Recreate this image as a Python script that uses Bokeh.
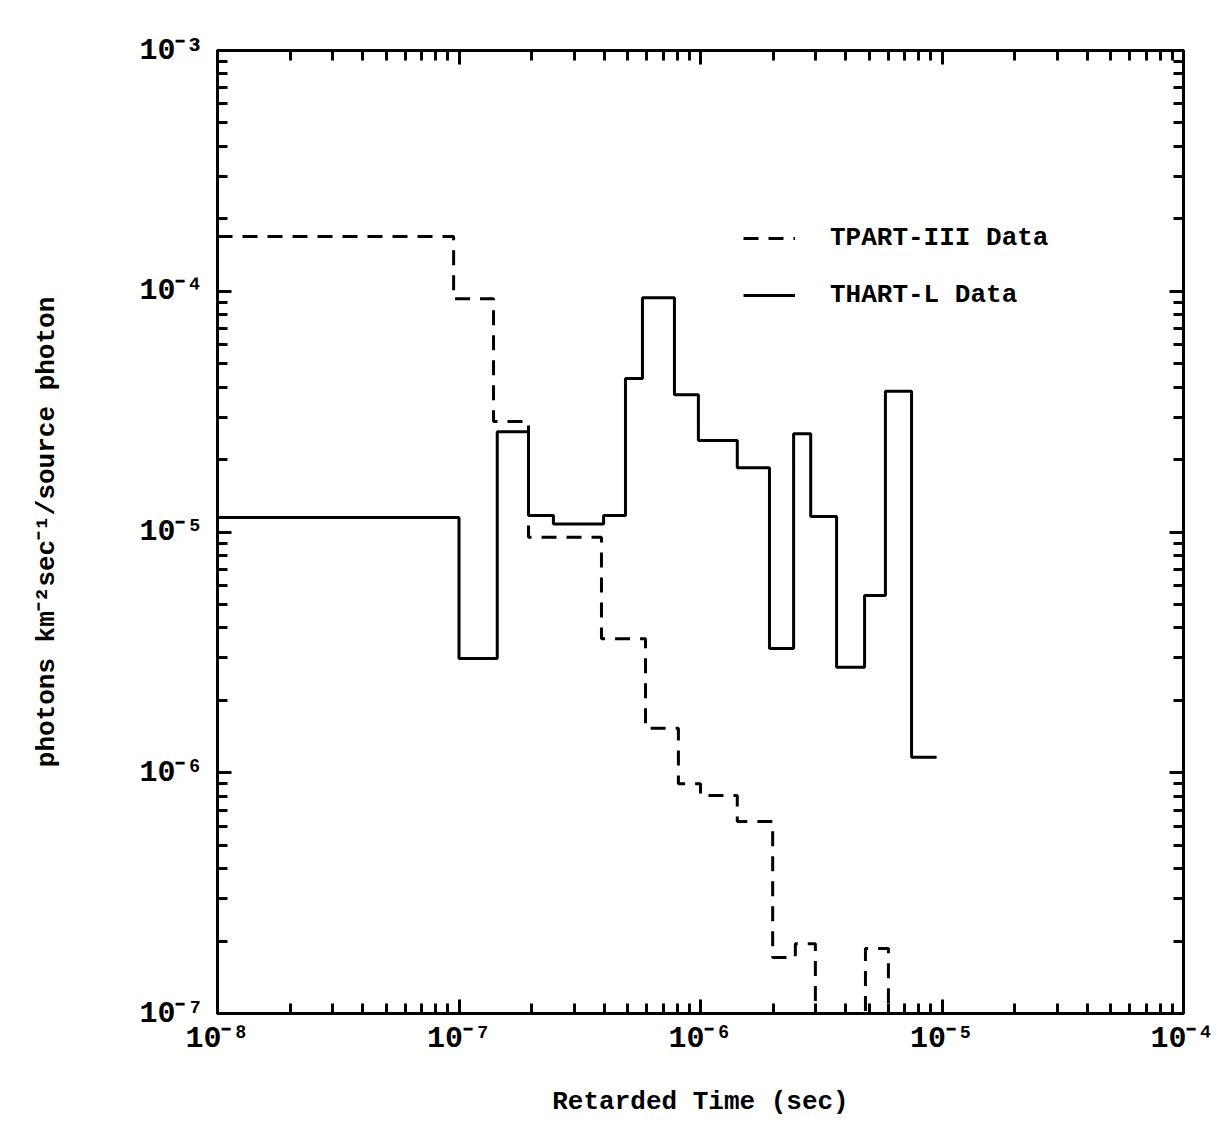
import bokeh.plotting as bkh
from bokeh.models import LogAxis, FixedTicker
from bokeh.embed import file_html
from bokeh.resources import INLINE

# bin edges (sec) and heights
tpart_edges = [1e-8, 9.5e-8, 1.39e-7, 1.94e-7, 3.89e-7, 5.92e-7, 8.1e-7, 1.0e-6,
	1.42e-6, 1.99e-6, 2.47e-6, 2.99e-6, 4.82e-6, 6.0e-6, 7.5e-6]
tpart_vals = [1.69e-4, 9.3e-5, 2.88e-5, 9.5e-6, 3.6e-6, 1.53e-6, 9.0e-7, 8.05e-7,
	6.27e-7, 1.71e-7, 1.95e-7, 5e-8, 1.86e-7, 5e-8]

thart_edges = [1e-8, 1.0e-7, 1.44e-7, 1.94e-7, 2.46e-7, 3.97e-7, 4.89e-7, 5.75e-7,
	7.8e-7, 9.8e-7, 1.42e-6, 1.93e-6, 2.43e-6, 2.86e-6, 3.66e-6, 4.78e-6, 5.83e-6,
	7.48e-6, 9.5e-6]
thart_vals = [1.15e-5, 2.98e-6, 2.61e-5, 1.17e-5, 1.08e-5, 1.17e-5, 4.34e-5, 9.4e-5,
	3.72e-5, 2.40e-5, 1.85e-5, 3.28e-6, 2.56e-5, 1.16e-5, 2.74e-6, 5.45e-6, 3.84e-5,
	1.16e-6]

x_major = [1e-8, 1e-7, 1e-6, 1e-5, 1e-4]
y_major = [1e-7, 1e-6, 1e-5, 1e-4, 1e-3]
x_labels = ['10⁻⁸', '10⁻⁷', '10⁻⁶', '10⁻⁵', '10⁻⁴']
y_labels = ['10⁻⁷', '10⁻⁶', '10⁻⁵', '10⁻⁴', '10⁻³']

FONT = 'Liberation Mono'

def steps(edges, vals):
	xs, ys = [], []
	for i, v in enumerate(vals):
		xs += [edges[i], edges[i + 1]]
		ys += [v, v]
	return xs, ys

def minors(majors):
	out = []
	for m in majors[:-1]:
		out += [k * m for k in range(2, 10)]
	return out

def style_axis(ax, ticks, minor, labels, show):
	ax.ticker = FixedTicker(ticks=ticks, minor_ticks=minor)
	ax.axis_line_width = 3
	ax.axis_line_color = 'black'
	ax.major_tick_in = 14
	ax.major_tick_out = 0
	ax.minor_tick_in = 10
	ax.minor_tick_out = 0
	ax.major_tick_line_width = 3
	ax.minor_tick_line_width = 3
	ax.major_label_text_font = FONT
	ax.major_label_text_font_style = 'bold'
	ax.major_label_text_font_size = '30px'
	ax.major_label_text_color = 'black'
	if show:
		ax.major_label_overrides = dict(zip(ticks, labels))
	else:
		ax.major_label_overrides = {t: '' for t in ticks}

p = bkh.figure(x_axis_type='log', y_axis_type='log',
	x_range=(1e-8, 1e-4), y_range=(1e-7, 1e-3),
	frame_width=966, frame_height=963,
	min_border_left=217, min_border_top=50, min_border_right=31, min_border_bottom=106,
	output_backend='svg', toolbar_location=None)
p.grid.visible = False
p.outline_line_color = 'black'
p.outline_line_width = 3

xs, ys = steps(tpart_edges, tpart_vals)
p.line(xs, ys, color='black', line_width=3, line_dash='15 10', legend_label='TPART-III Data')
xs, ys = steps(thart_edges, thart_vals)
p.line(xs, ys, color='black', line_width=3, legend_label='THART-L Data')

bottom = p.xaxis[0]
left = p.yaxis[0]
style_axis(bottom, x_major, minors(x_major), x_labels, True)
style_axis(left, y_major, minors(y_major), y_labels, True)
bottom.major_label_standoff = 8
left.major_label_standoff = 14

top = LogAxis()
style_axis(top, x_major, minors(x_major), x_labels, False)
top.major_label_standoff = 0
p.add_layout(top, 'above')
right = LogAxis()
style_axis(right, y_major, minors(y_major), y_labels, False)
right.major_label_standoff = 0
p.add_layout(right, 'right')

bottom.axis_label = 'Retarded Time (sec)'
left.axis_label = 'photons km⁻²sec⁻¹/source photon'
for ax in (bottom, left):
	ax.axis_label_text_font = FONT
	ax.axis_label_text_font_style = 'bold'
	ax.axis_label_text_font_size = '26px'
	ax.axis_label_text_color = 'black'
bottom.axis_label_standoff = 28
left.axis_label_standoff = 74

leg = p.legend[0]
leg.location = (526, 703)
leg.background_fill_alpha = 0
leg.border_line_alpha = 0
leg.padding = 0
leg.margin = 0
leg.glyph_width = 52
leg.glyph_height = 30
leg.label_height = 30
leg.label_standoff = 35
leg.spacing = 27
leg.label_text_font = FONT
leg.label_text_font_style = 'bold'
leg.label_text_font_size = '26px'
leg.label_text_color = 'black'

open('out.html', 'w').write(file_html(p, INLINE))
